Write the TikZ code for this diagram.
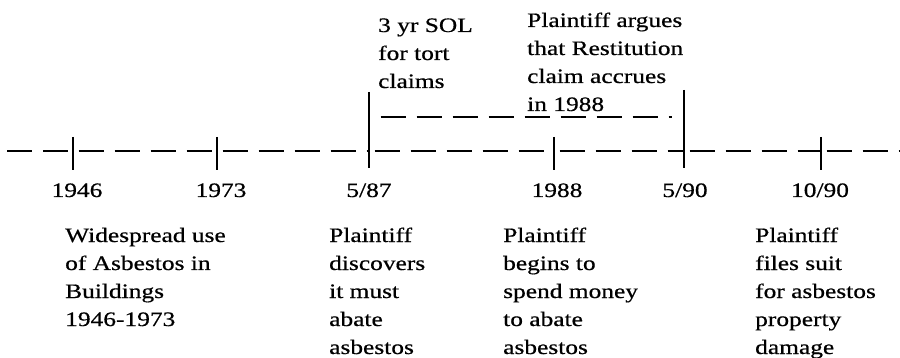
\documentclass[tikz,border=0pt]{standalone}
\usepackage{fontspec}
\setmainfont{Liberation Serif}[FakeStretch=1.24,FakeBold=0.6]
\begin{document}
\begin{tikzpicture}[x=1pt,y=-1pt,
  txt/.style={font=\fontsize{20.5}{28}\selectfont, inner sep=0pt, align=left, anchor=base west},
  lbl/.style={font=\fontsize{20.5}{28}\selectfont, inner sep=0pt, anchor=base},
  tickline/.style={line width=2.3pt},
  dashline/.style={line width=2pt, dash pattern=on 0pt off 5.5pt on 25pt off 5.5pt}]
\useasboundingbox (0,0) rectangle (900,358);
% tick positions on the main line
\coordinate (a) at (73,151);
\coordinate (b) at (217,151);
\coordinate (c) at (369,151);
\coordinate (d) at (554,151);
\coordinate (e) at (684,151);
\coordinate (f) at (821,151);
\coordinate (l0) at (0,151);
\coordinate (r0) at (900,151);
% main dashed line
\draw[dashline] (a) -- (l0);
\draw[dashline] (a) -- (b);
\draw[dashline] (b) -- (c);
\draw[dashline] (c) -- (d);
\draw[dashline] (d) -- (e);
\draw[dashline] (e) -- (f);
\draw[dashline] (f) -- (r0);
% ticks
\draw[tickline] (73,137) -- (73,170);
\draw[tickline] (217,137) -- (217,170);
\draw[tickline] (554,137) -- (554,170);
\draw[tickline] (821,137) -- (821,170);
\draw[tickline] (369,92) -- (369,168);
\draw[tickline] (684,90) -- (684,168);
% upper dashed line
\coordinate (u1) at (375,117);
\coordinate (u2) at (672,117);
\draw[dashline] (u1) -- (u2);
% tick labels
\node[lbl] (n1946) at (77,197) {1946};
\node[lbl] (n1973) at (221,197) {1973};
\node[lbl] (n587) at (369,197) {5/87};
\node[lbl] (n1988) at (557,197) {1988};
\node[lbl] (n590) at (685,197) {5/90};
\node[lbl] (n1090) at (820,197) {10/90};
% upper texts (anchor = baseline of last line)
\node[txt] (sol) at (378,88) {3 yr SOL\\for tort\\claims};
\node[txt] (argues) at (527,111) {Plaintiff argues\\that Restitution\\claim accrues\\in 1988};
% lower texts
\node[txt] (t1) at (65,326) {Widespread use\\of Asbestos in\\Buildings\\1946-1973};
\node[txt] (t2) at (329,354) {Plaintiff\\discovers\\it must\\abate\\asbestos};
\node[txt] (t3) at (503,354) {Plaintiff\\begins to\\spend money\\to abate\\asbestos};
\node[txt] (t4) at (755,354) {Plaintiff\\files suit\\for asbestos\\property\\damage};
\end{tikzpicture}
\end{document}
